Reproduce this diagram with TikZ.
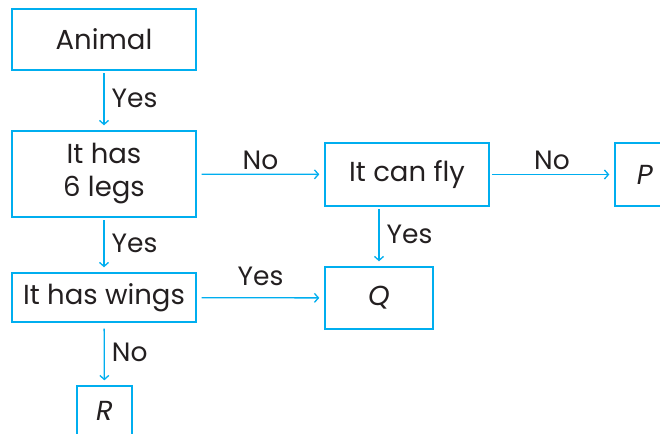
\documentclass[tikz,border=0pt]{standalone}
\usepackage{fontspec}
\setmainfont{Poppins}
\usepackage{tikz}
\usetikzlibrary{arrows.meta, positioning}
\definecolor{boxcyan}{RGB}{0,174,239}
\definecolor{ink}{RGB}{35,31,32}

\begin{document}
\begin{tikzpicture}[x=1pt, y=-1pt, font=\fontsize{27.5}{33}\selectfont, text=ink,
    box/.style={draw=boxcyan, line width=1.4pt, inner sep=0pt, align=center},
    link/.style={-{Straight Barb[length=4pt, width=9pt]}, draw=boxcyan, line width=1.3pt,
        shorten <=2.5pt, shorten >=5pt},
    lbl/.style={font=\fontsize{26.5}{30}\selectfont, text=ink, inner sep=7pt}]
    \useasboundingbox (0,0) rectangle (660,433);
    % boxes
    \node[box, minimum width=184pt, minimum height=61pt] (animal) at (104,39.5) {Animal};
    \node[box, minimum width=184pt, minimum height=86pt] (legs) at (104,174) {It has\\6 legs};
    \node[box, minimum width=164pt, minimum height=63pt] (fly) at (407,174.5) {It can fly};
    \node[box, minimum width=60pt, minimum height=63pt] (p) at (645,174.5) {\textit{P}};
    \node[box, minimum width=108pt, minimum height=62pt] (q) at (379,298) {\textit{Q}};
    \node[box, minimum width=184pt, minimum height=49pt] (wings) at (104,297.5) {It has wings};
    \node[box, minimum width=55pt, minimum height=50pt] (r) at (104.5,411) {\textit{R}};
    % arrows
    \draw[link] (animal) -- (legs) node[lbl, midway, right, yshift=2pt]{Yes};
    \draw[link, shorten <=5pt] (legs) -- (fly) node[lbl, midway, above, yshift=-3pt]{No};
    \draw[link] (fly) -- (p) node[lbl, midway, above, yshift=-3pt]{No};
    \draw[link] (fly.south -| q) -- (q) node[lbl, midway, right, yshift=2pt]{Yes};
    \draw[link] (legs) -- (wings) node[lbl, midway, right, yshift=2pt]{Yes};
    \draw[link, shorten <=5pt] (wings) -- (q) node[lbl, midway, above=4pt]{Yes};
    \draw[link, shorten <=6pt] (wings) -- (r) node[lbl, midway, right, yshift=2pt]{No};
\end{tikzpicture}
\end{document}
